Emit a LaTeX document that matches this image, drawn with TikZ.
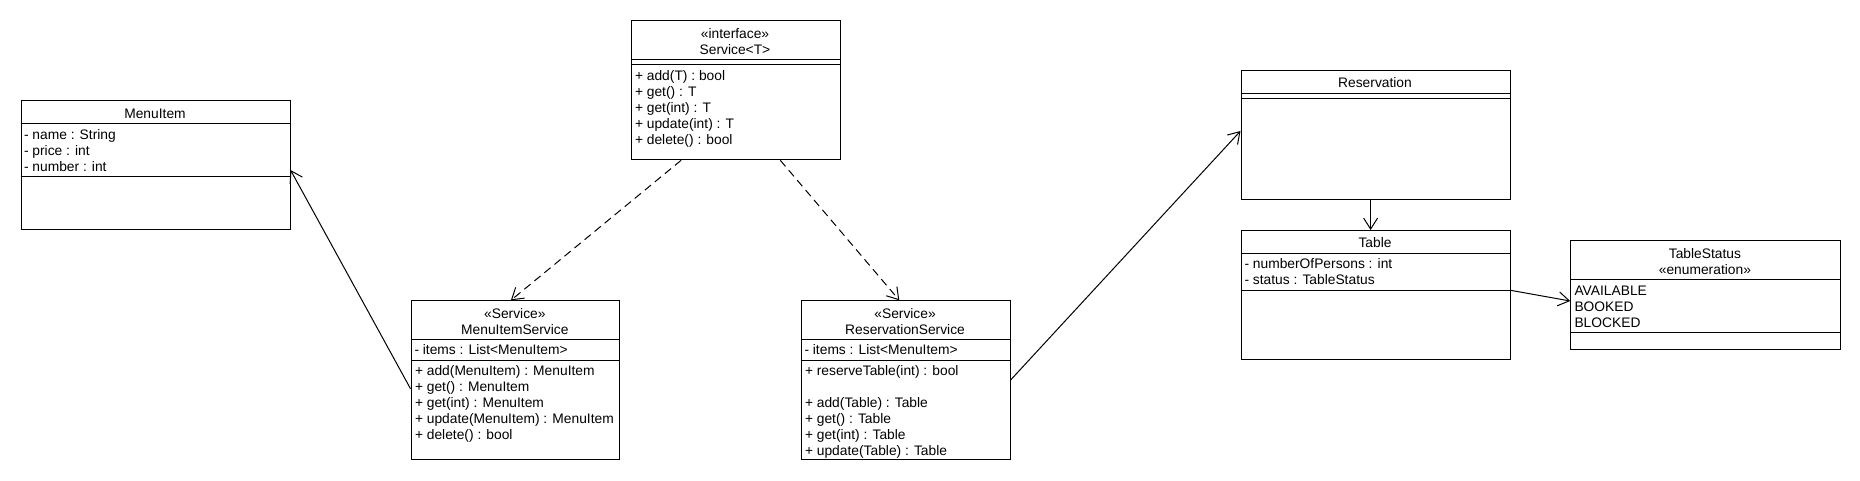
\documentclass[tikz,border=0pt]{standalone}
\usepackage{fontspec}
\setmainfont{Liberation Sans}
\usetikzlibrary{arrows.meta}
\begin{document}
\begin{tikzpicture}[x=1pt,y=-1pt,line width=1pt,
  cls/.style={draw,rectangle,inner sep=0pt,anchor=north west},
  txt/.style={anchor=base west,inner sep=0pt,font=\fontsize{13.8}{16}\selectfont},
  ctxt/.style={anchor=base,inner sep=0pt,font=\fontsize{13.8}{16}\selectfont},
  assoc/.style={-{Straight Barb[length=11pt,width=14pt]}},
  dep/.style={assoc,dash pattern=on 8pt off 5pt}]
\fill[white] (0,0) rectangle (1860,480);
\useasboundingbox (0,0) rectangle (1860,480);

% ---------- MenuItem
\node[cls,minimum width=269pt,minimum height=129.3pt] (mi) at (20.5,100) {};
\draw (mi.west |- 0,123.3) -- (mi.east |- 0,123.3);
\draw (mi.west |- 0,176.3) -- (mi.east |- 0,176.3);
\node[ctxt] (mi-t) at (155,118) {MenuItem};
\foreach \t [count=\i] in {- name : String,- price : int,- number : int}
  \node[txt] (mi-a\i) at (23.5,{139+16*(\i-1)}) {\t};

% ---------- Service<T>
\node[cls,minimum width=209pt,minimum height=139pt] (svc) at (630.5,20.3) {};
\draw (svc.west |- 0,59.7) -- (svc.east |- 0,59.7);
\draw (svc.west |- 0,64.3) -- (svc.east |- 0,64.3);
\node[ctxt] (svc-s) at (735,38) {«interface»};
\node[ctxt] (svc-t) at (735,54) {Service<T>};
\foreach \t [count=\i] in {+ add(T) : bool,+ get() : T,+ get(int) : T,+ update(int) : T,+ delete() : bool}
  \node[txt] (svc-m\i) at (634.5,{80+16*(\i-1)}) {\t};

% ---------- MenuItemService
\node[cls,minimum width=208.7pt,minimum height=159pt] (mis) at (410.5,300.3) {};
\draw (mis.west |- 0,339.7) -- (mis.east |- 0,339.7);
\draw (mis.west |- 0,360.3) -- (mis.east |- 0,360.3);
\node[ctxt] (mis-s) at (514.85,318) {«Service»};
\node[ctxt] (mis-t) at (514.85,334) {MenuItemService};
\node[txt] (mis-a1) at (414,354.5) {- items : List<MenuItem>};
\foreach \t [count=\i] in {+ add(MenuItem) : MenuItem,+ get() : MenuItem,+ get(int) : MenuItem,+ update(MenuItem) : MenuItem,+ delete() : bool}
  \node[txt] (mis-m\i) at (414.5,{375.5+16*(\i-1)}) {\t};

% ---------- ReservationService
\node[cls,minimum width=209.1pt,minimum height=159pt] (rs) at (800.5,300.3) {};
\draw (rs.west |- 0,339.7) -- (rs.east |- 0,339.7);
\draw (rs.west |- 0,360.3) -- (rs.east |- 0,360.3);
\node[ctxt] (rs-s) at (905.05,318) {«Service»};
\node[ctxt] (rs-t) at (905.05,334) {ReservationService};
\node[txt] (rs-a1) at (804,354.5) {- items : List<MenuItem>};
\node[txt] (rs-m0) at (804.5,375.5) {+ reserveTable(int) : bool};
\foreach \t [count=\i] in {+ add(Table) : Table,+ get() : Table,+ get(int) : Table,+ update(Table) : Table}
  \node[txt] (rs-m\i) at (804.5,{407.5+16*(\i-1)}) {\t};

% ---------- Reservation
\node[cls,minimum width=269pt,minimum height=129pt] (res) at (1240.5,70.3) {};
\draw (res.west |- 0,93.7) -- (res.east |- 0,93.7);
\draw (res.west |- 0,98.3) -- (res.east |- 0,98.3);
\node[ctxt] (res-t) at (1375,87.5) {Reservation};

% ---------- Table
\node[cls,minimum width=269pt,minimum height=129.3pt] (tbl) at (1240.5,230) {};
\draw (tbl.west |- 0,253.3) -- (tbl.east |- 0,253.3);
\draw (tbl.west |- 0,290.3) -- (tbl.east |- 0,290.3);
\node[ctxt] (tbl-t) at (1375,247.8) {Table};
\node[txt] (tbl-a1) at (1244,268.8) {- numberOfPersons : int};
\node[txt] (tbl-a2) at (1244,284.8) {- status : TableStatus};

% ---------- TableStatus
\node[cls,minimum width=269.4pt,minimum height=109pt] (ts) at (1570.2,240.3) {};
\draw (ts.west |- 0,279.3) -- (ts.east |- 0,279.3);
\draw (ts.west |- 0,332.3) -- (ts.east |- 0,332.3);
\node[ctxt] (ts-t) at (1704.9,258) {TableStatus};
\node[ctxt] (ts-s) at (1704.9,274) {«enumeration»};
\foreach \t [count=\i] in {AVAILABLE,BOOKED,BLOCKED}
  \node[txt] (ts-v\i) at (1574,{295+16*(\i-1)}) {\t};

% ---------- connectors
\draw[assoc] (mis.west |- 0,388.7) -- (mi.east |- 0,170);
\draw[dep] (svc.south -| 681.1,0) -- (mis.north -| 510.9,0);
\draw[dep] (svc.south -| 780.3,0) -- (rs.north -| 899.3,0);
\draw[assoc] (rs.east |- 0,380) -- (res.west |- 0,131);
\draw[assoc] (res.south -| 1370.6,0) -- (tbl.north -| 1370.6,0);
\draw[assoc] (tbl.east |- 0,290.3) -- (ts.west |- 0,301);
\end{tikzpicture}
\end{document}
